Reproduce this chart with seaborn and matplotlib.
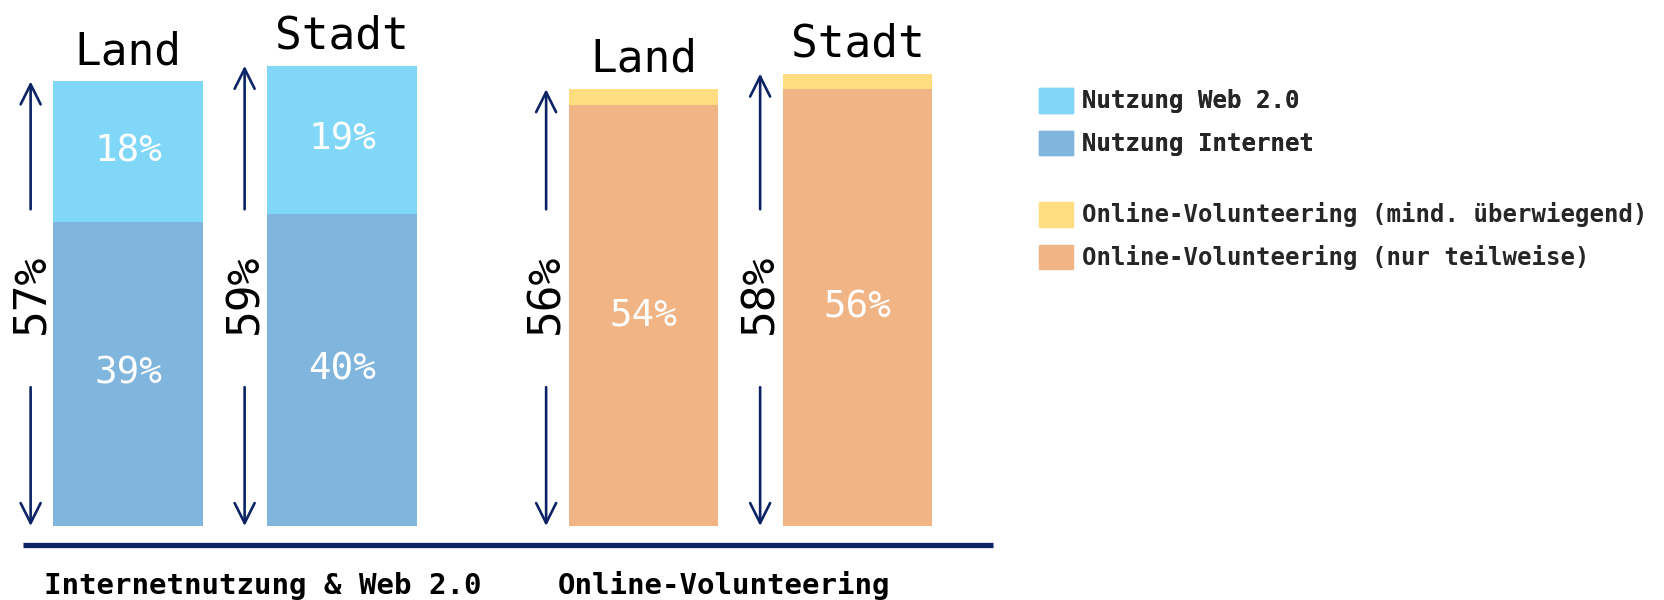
import matplotlib
matplotlib.use("Agg")
import matplotlib.pyplot as plt
from matplotlib.patches import Patch
from matplotlib.lines import Line2D
import seaborn as sns
import pandas as pd

# ---- data ----
areas = ["Land", "Stadt"]
group_titles = ["Internetnutzung & Web 2.0", "Online-Volunteering"]
internet = [39, 40]          # Nutzung Internet
web20 = [18, 19]             # Nutzung Web 2.0
vol_partial = [54, 56]       # Online-Volunteering (nur teilweise)
vol_mostly = [2, 2]          # Online-Volunteering (mind. überwiegend)
legend_labels = ["Nutzung Web 2.0", "Nutzung Internet",
                 "Online-Volunteering (mind. überwiegend)",
                 "Online-Volunteering (nur teilweise)"]

# ---- style ----
C_WEB = "#80D7F8"
C_INT = "#80B5DD"
C_MOST = "#FFDD80"
C_PART = "#F0B485"
NAVY = "#0C2366"

sns.set_theme(style="white")
plt.rcParams["font.family"] = ["DejaVu Sans Mono", "DejaVu Sans"]

W, H = 1665, 600
fig = plt.figure(figsize=(W / 100, H / 100), dpi=100)

YMAX = 65
ax_bottom = (H - 526) / H
ax_height = (YMAX * 7.8) / H
ax_w = 428 / W
ax1 = fig.add_axes([21 / W, ax_bottom, ax_w, ax_height])
ax2 = fig.add_axes([536.5 / W, ax_bottom, ax_w, ax_height])

UP_TAIL = 40.6
DOWN_TAIL = 17.8
LABEL_Y = 29.8
ARROW_DX = -0.455


def draw_group(ax, lower, upper, c_low, c_up):
    totals = [a + b for a, b in zip(lower, upper)]
    df = pd.DataFrame({"area": areas, "total": totals, "lower": lower})
    sns.barplot(data=df, x="area", y="total", color=c_up, saturation=1,
                width=0.7, ax=ax, linewidth=0)
    sns.barplot(data=df, x="area", y="lower", color=c_low, saturation=1,
                width=0.7, ax=ax, linewidth=0)
    ax.set_xlim(-0.5, 1.5)
    ax.set_ylim(0, YMAX)
    ax.set_axis_off()
    return totals


def annotate_group(ax, lower, upper, totals, label_upper):
    for i, (lo, up, tot) in enumerate(zip(lower, upper, totals)):
        # title above bar
        ax.annotate(areas[i], xy=(i, tot), xytext=(0, 12.5),
                    textcoords="offset points", ha="center", va="baseline",
                    fontsize=32, color="black", annotation_clip=False)
        # inner labels
        ax.text(i, lo / 2, f"{lo}%", ha="center", va="center",
                fontsize=27, color="white")
        if label_upper:
            ax.text(i, lo + up / 2, f"{up}%", ha="center", va="center",
                    fontsize=27, color="white")
        # arrows & total label
        xa = i + ARROW_DX
        ap = dict(arrowstyle="->", color=NAVY, lw=1.9, mutation_scale=36,
                  shrinkA=0, shrinkB=0)
        ax.annotate("", xy=(xa, tot), xytext=(xa, UP_TAIL),
                    arrowprops=ap, annotation_clip=False)
        ax.annotate("", xy=(xa, 0), xytext=(xa, DOWN_TAIL),
                    arrowprops=ap, annotation_clip=False)
        ax.text(xa, LABEL_Y, f"{tot}%", rotation=90, ha="center",
                va="center", fontsize=32, color="black", clip_on=False)


t1 = draw_group(ax1, internet, web20, C_INT, C_WEB)
t2 = draw_group(ax2, vol_partial, vol_mostly, C_PART, C_MOST)
annotate_group(ax1, internet, web20, t1, True)
annotate_group(ax2, vol_partial, vol_mostly, t2, False)

# baseline
fig.add_artist(Line2D([23 / W, 993 / W], [1 - 545 / H, 1 - 545 / H],
                      color=NAVY, lw=3.8, solid_capstyle="butt"))

# group labels
fig.text(263 / W, 1 - 586 / H, group_titles[0], ha="center", va="center",
         fontsize=21, fontweight="bold", color="black")
fig.text(724 / W, 1 - 586 / H, group_titles[1], ha="center", va="center",
         fontsize=21, fontweight="bold", color="black")

# legends
leg_kw = dict(loc="upper left", frameon=False, borderpad=0, borderaxespad=0,
              handlelength=1.4, handleheight=1.2, handletextpad=0.4,
              labelspacing=0.72,
              prop=dict(family="DejaVu Sans Mono", weight="bold", size=17.3))
h1 = [Patch(color=C_WEB, label=legend_labels[0]),
      Patch(color=C_INT, label=legend_labels[1])]
h2 = [Patch(color=C_MOST, label=legend_labels[2]),
      Patch(color=C_PART, label=legend_labels[3])]
lg1 = fig.legend(handles=h1, bbox_to_anchor=(1039 / W, 1 - 88 / H), **leg_kw)
fig.add_artist(lg1)
lg2 = fig.legend(handles=h2, bbox_to_anchor=(1039 / W, 1 - 202 / H), **leg_kw)

fig.savefig("out.png", dpi=100)
